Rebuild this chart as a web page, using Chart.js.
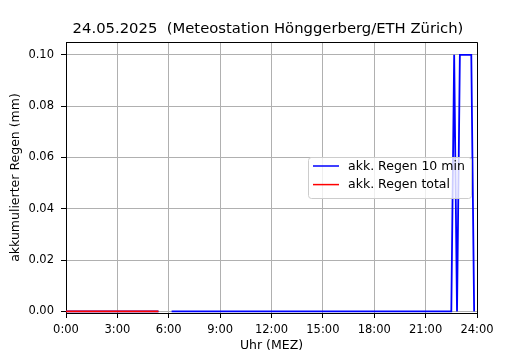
<!DOCTYPE html>
<html>
<head>
<meta charset="utf-8">
<script src="https://cdn.jsdelivr.net/npm/chart.js@4/dist/chart.umd.min.js"></script>
<style>
  html, body { margin: 0; padding: 0; background: #fff; }
</style>
</head>
<body>
<canvas id="chart" width="530" height="350"></canvas>
<script>
// 10-min accumulated rain (time of day, mm); null = no data
const rainTimes  = ['0:00', '5:24', '5:50', '6:10', '22:30', '22:40', '22:50', '23:00', '23:40', '23:50'];
const rainValues = [0, 0, null, 0, 0, 0.1, 0, 0.1, 0.1, 0];
// total accumulated rain
const totalTimes  = ['0:00', '5:24'];
const totalValues = [0, 0];

const xTickLabels = ['0:00', '3:00', '6:00', '9:00', '12:00', '15:00', '18:00', '21:00', '24:00'];
const yTickValues = [0, 0.02, 0.04, 0.06, 0.08, 0.10];

const FONT = 'DejaVu Sans';
const TITLE = '24.05.2025  (Meteostation Hönggerberg/ETH Zürich)';

function toMin(t) {
  let p = t.split(':');
  return parseInt(p[0]) * 60 + parseInt(p[1]);
}
function points(times, values) {
  return times.map((t, i) => ({ x: toMin(t), y: values[i] }));
}

// title + top/right spines
const frame = {
  id: 'frame',
  afterDatasetsDraw(chart) {
    let a = chart.chartArea, ctx = chart.ctx;
    ctx.save();
    ctx.strokeStyle = '#000';
    ctx.lineWidth = 1;
    ctx.beginPath();
    ctx.moveTo(a.left, a.top + 0.5);
    ctx.lineTo(a.right + 0.5, a.top + 0.5);
    ctx.lineTo(a.right + 0.5, a.bottom);
    ctx.stroke();
    ctx.fillStyle = '#000';
    ctx.font = '14.8px "' + FONT + '"';
    ctx.textAlign = 'center';
    ctx.textBaseline = 'middle';
    ctx.fillText(TITLE, 268, 29);
    ctx.restore();
  }
};

// matplotlib-like legend inside the plot
const legendBox = {
  id: 'legendBox',
  afterDraw(chart) {
    let ctx = chart.ctx;
    let x = 308, y = 157, w = 163, h = 41;
    ctx.save();
    ctx.beginPath();
    ctx.roundRect(x + 0.5, y + 0.5, w, h, 3);
    ctx.fillStyle = 'rgba(255,255,255,0.8)';
    ctx.fill();
    ctx.strokeStyle = '#cccccc';
    ctx.lineWidth = 1;
    ctx.stroke();
    ctx.font = '12.5px "' + FONT + '"';
    ctx.textBaseline = 'middle';
    chart.data.datasets.forEach((ds, i) => {
      let ly = y + 9 + i * 18.6;
      ctx.strokeStyle = ds.borderColor;
      ctx.lineWidth = 1.5;
      ctx.beginPath();
      ctx.moveTo(x + 5, ly);
      ctx.lineTo(x + 31, ly);
      ctx.stroke();
      ctx.fillStyle = '#000';
      ctx.fillText(ds.label, x + 40, ly + 0.5);
    });
    ctx.restore();
  }
};

const chart = new Chart(document.getElementById('chart'), {
  type: 'line',
  data: {
    datasets: [
      {
        label: 'akk. Regen 10 min',
        data: points(rainTimes, rainValues),
        borderColor: '#0000ff',
        borderWidth: 1.8,
        pointRadius: 0,
        tension: 0,
        spanGaps: false,
        order: 1
      },
      {
        label: 'akk. Regen total',
        data: points(totalTimes, totalValues),
        borderColor: '#ff0000',
        borderWidth: 1.8,
        pointRadius: 0,
        tension: 0,
        order: 0
      }
    ]
  },
  options: {
    responsive: false,
    animation: false,
    devicePixelRatio: 1,
    layout: { padding: { left: 0, right: 53, top: 42, bottom: 0 } },
    plugins: {
      legend: { display: false },
      tooltip: { enabled: false },
      title: { display: false }
    },
    scales: {
      x: {
        type: 'linear',
        min: 0,
        max: 1440,
        afterBuildTicks: s => { s.ticks = xTickLabels.map((l, i) => ({ value: i * 180 })); },
        afterFit: s => { s.height = 37; },
        ticks: {
          callback: (v, i) => xTickLabels[i],
          color: '#000',
          font: { family: FONT, size: 11.5 },
          padding: 5,
          maxRotation: 0,
          autoSkip: false
        },
        grid: { color: '#b0b0b0', lineWidth: 1, tickColor: '#000', tickLength: 5 },
        border: { color: '#000', width: 1 },
        title: {
          display: true,
          text: 'Uhr (MEZ)',
          color: '#000',
          font: { family: FONT, size: 12.5 },
          padding: { top: 0, bottom: -3 }
        }
      },
      y: {
        min: -0.0006,
        max: 0.105,
        afterBuildTicks: s => { s.ticks = yTickValues.map(v => ({ value: v })); },
        afterFit: s => { s.width = 66; },
        ticks: {
          callback: v => v.toFixed(2),
          color: '#000',
          font: { family: FONT, size: 11.5 },
          padding: 7
        },
        grid: { color: '#b0b0b0', lineWidth: 1, tickColor: '#000', tickLength: 5 },
        border: { color: '#000', width: 1 },
        title: {
          display: true,
          text: 'akkumulierter Regen (mm)',
          color: '#000',
          font: { family: FONT, size: 12.5 },
          padding: { top: 8, bottom: 0 }
        }
      }
    }
  },
  plugins: [frame, legendBox]
});
</script>
</body>
</html>
